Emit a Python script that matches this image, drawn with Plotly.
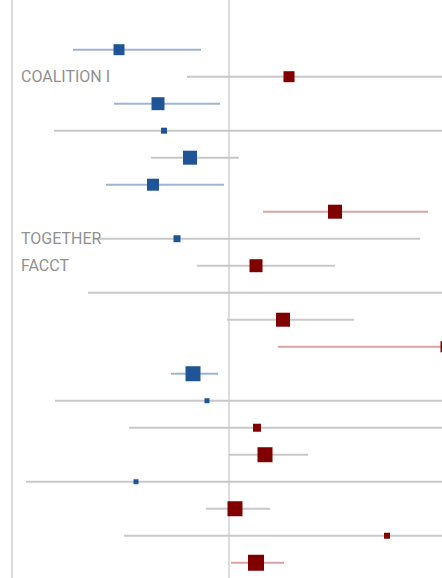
import plotly.graph_objects as go

# Row labels (top to bottom)
labels = ["", "COALITION I", "", "", "", "", "", "TOGETHER", "FACCT", "",
          "", "", "", "", "", "", "", "", "", ""]
# Point estimates and confidence limits (effect scale, 0 = no effect)
estimate = [-1.10, 0.60, -0.71, -0.65, -0.39, -0.76, 1.06, -0.52, 0.27, 2.60,
            0.54, 2.17, -0.36, -0.22, 0.28, 0.36, -0.93, 0.06, 1.58, 0.27]
lower = [-1.56, -0.42, -1.15, -1.75, -0.78, -1.23, 0.34, -1.34, -0.32, -1.41,
         -0.02, 0.49, -0.58, -1.74, -1.00, 0.00, -2.03, -0.23, -1.05, 0.02]
upper = [-0.28, 2.40, -0.09, 2.50, 0.10, -0.05, 1.99, 1.91, 1.06, 3.00,
         1.25, 2.60, -0.11, 2.50, 2.50, 0.79, 2.50, 0.41, 2.50, 0.55]
# Study weight (marker size)
weight = [11, 11, 13, 6, 14, 12, 14, 7, 13, 8,
          14, 11, 15, 5, 8, 15, 5, 15, 6, 16]

BLUE = "#1f5597"
RED = "#800000"
GREY_LINE = "#c8c8c8"
BLUE_LINE = "#9fb4d3"
RED_LINE = "#d9a3a3"

rows = list(range(len(labels)))

groups = {GREY_LINE: ([], []), BLUE_LINE: ([], []), RED_LINE: ([], [])}
for i in rows:
    if upper[i] < 0:
        c = BLUE_LINE
    elif lower[i] > 0:
        c = RED_LINE
    else:
        c = GREY_LINE
    xs, ys = groups[c]
    xs += [lower[i], upper[i], None]
    ys += [i, i, None]

fig = go.Figure()
for c, (xs, ys) in groups.items():
    fig.add_trace(go.Scatter(x=xs, y=ys, mode="lines",
                             line=dict(color=c, width=2),
                             hoverinfo="skip", showlegend=False))

fig.add_trace(go.Scatter(
    x=estimate, y=rows, mode="markers",
    marker=dict(symbol="square", size=weight, opacity=1,
                color=[BLUE if e < 0 else RED for e in estimate],
                line=dict(width=0)),
    showlegend=False))

for i, lab in enumerate(labels):
    if lab:
        fig.add_annotation(x=0, xref="paper", y=i, yref="y", text=lab,
                           showarrow=False, xanchor="left", yanchor="middle",
                           xshift=6,
                           font=dict(family="Roboto", size=16, color="#919191"))

fig.update_layout(
    width=442, height=578,
    margin=dict(l=13, r=0, t=0, b=0),
    paper_bgcolor="white", plot_bgcolor="white",
    xaxis=dict(range=[-2.16, 2.13], showgrid=False, showticklabels=False,
               ticks="", zeroline=True, zerolinecolor="#dddddd",
               zerolinewidth=2),
    yaxis=dict(range=[19.565, -1.84], showgrid=False, showticklabels=False,
               ticks="", zeroline=False, showline=True,
               linecolor="#dddddd", linewidth=2),
)

fig.write_html("out.html",
               config={"displayModeBar": False},
               post_script="document.body.style.margin='0';"
                           "document.body.style.overflow='hidden';")
